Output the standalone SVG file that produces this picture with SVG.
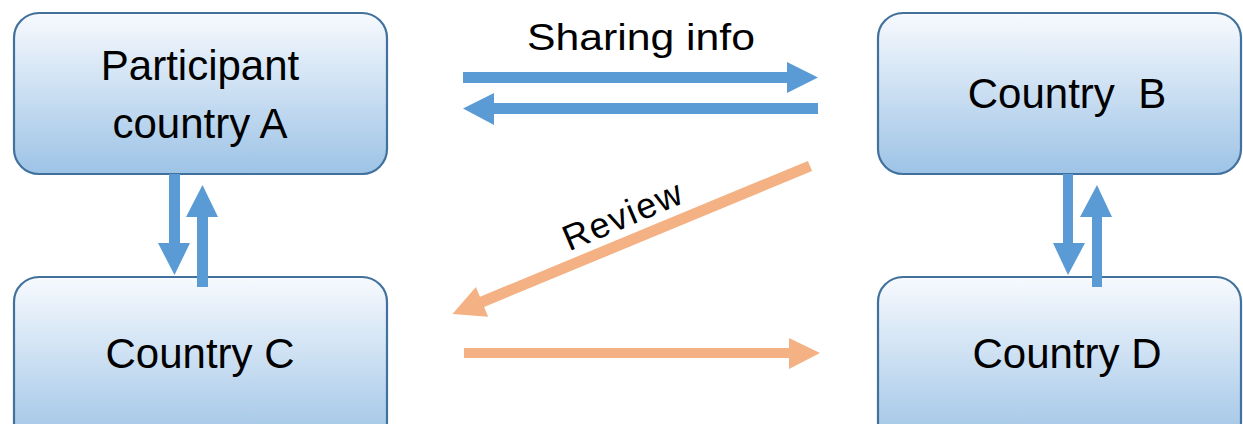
<svg xmlns="http://www.w3.org/2000/svg" width="1243" height="424" viewBox="0 0 1243 424">
  <defs>
    <linearGradient id="nodeFill" x1="0" y1="0" x2="0" y2="1">
      <stop offset="0" stop-color="#F7FAFE"/>
      <stop offset="1" stop-color="#9DC3E6"/>
    </linearGradient>
    <style>
      .node rect { fill: url(#nodeFill); stroke: #41719C; stroke-width: 2.2; }
      .label { font-family: "Liberation Sans", Arial, sans-serif; font-size: 42px; fill: #000; text-anchor: middle; }
      .blue { fill: #5B9BD5; }
      .orange { fill: #F4B183; }
      .caption { font-family: "Liberation Sans", Arial, sans-serif; fill: #000; text-anchor: middle; }
    </style>
  </defs>
  <rect width="1243" height="424" fill="#FFFFFF"/>

  <g id="nodeA" class="node">
    <rect x="14" y="13" width="373" height="161" rx="25" ry="25"/>
    <text class="label" x="200" y="80">Participant</text>
    <text class="label" x="200" y="138">country A</text>
  </g>
  <g id="nodeB" class="node">
    <rect x="878" y="13" width="363" height="161" rx="25" ry="25"/>
    <text class="label" x="1067" y="108" xml:space="preserve">Country  B</text>
  </g>
  <g id="nodeC" class="node">
    <rect x="14" y="277" width="373" height="170" rx="25" ry="25"/>
    <text class="label" x="200" y="368">Country C</text>
  </g>
  <g id="nodeD" class="node">
    <rect x="878" y="277" width="363" height="170" rx="25" ry="25"/>
    <text class="label" x="1067" y="368">Country D</text>
  </g>

  <g id="connectors">
    <!-- Sharing info arrows -->
    <path class="blue" d="M463,72 H787 V62 L818,77.5 L787,93 V83 H463 Z"/>
    <path class="blue" d="M818,103 H494 V93 L463,108.5 L494,125 V114 H818 Z"/>
    <!-- A <-> C -->
    <path class="blue" d="M169,174 H180 V243 H190 L174.5,275 L158,243 H169 Z"/>
    <path class="blue" d="M197,287 H208 V217 H218 L202.5,185 L186,217 H197 Z"/>
    <!-- B <-> D -->
    <path class="blue" d="M1063,174 H1073 V243 H1085 L1068,275 L1053,243 H1063 Z"/>
    <path class="blue" d="M1092,287 H1102 V217 H1112 L1097,185 L1080,217 H1092 Z"/>
    <!-- Review arrow (B -> C) -->
    <g transform="translate(810,166) rotate(157.5)">
      <path class="orange" d="M0,-5.5 H355 V-16 L387,0 L355,16 V5.5 H0 Z"/>
    </g>
    <!-- C -> D -->
    <path class="orange" d="M464,348 H789 V338 L820,353 L789,369 V358 H464 Z"/>
  </g>

  <g id="labels">
    <text class="caption" x="641" y="50" font-size="36" textLength="228" lengthAdjust="spacingAndGlyphs">Sharing info</text>
    <text class="caption" x="627" y="227" font-size="36" textLength="126" transform="rotate(-23 627 227)">Review</text>
  </g>
</svg>
